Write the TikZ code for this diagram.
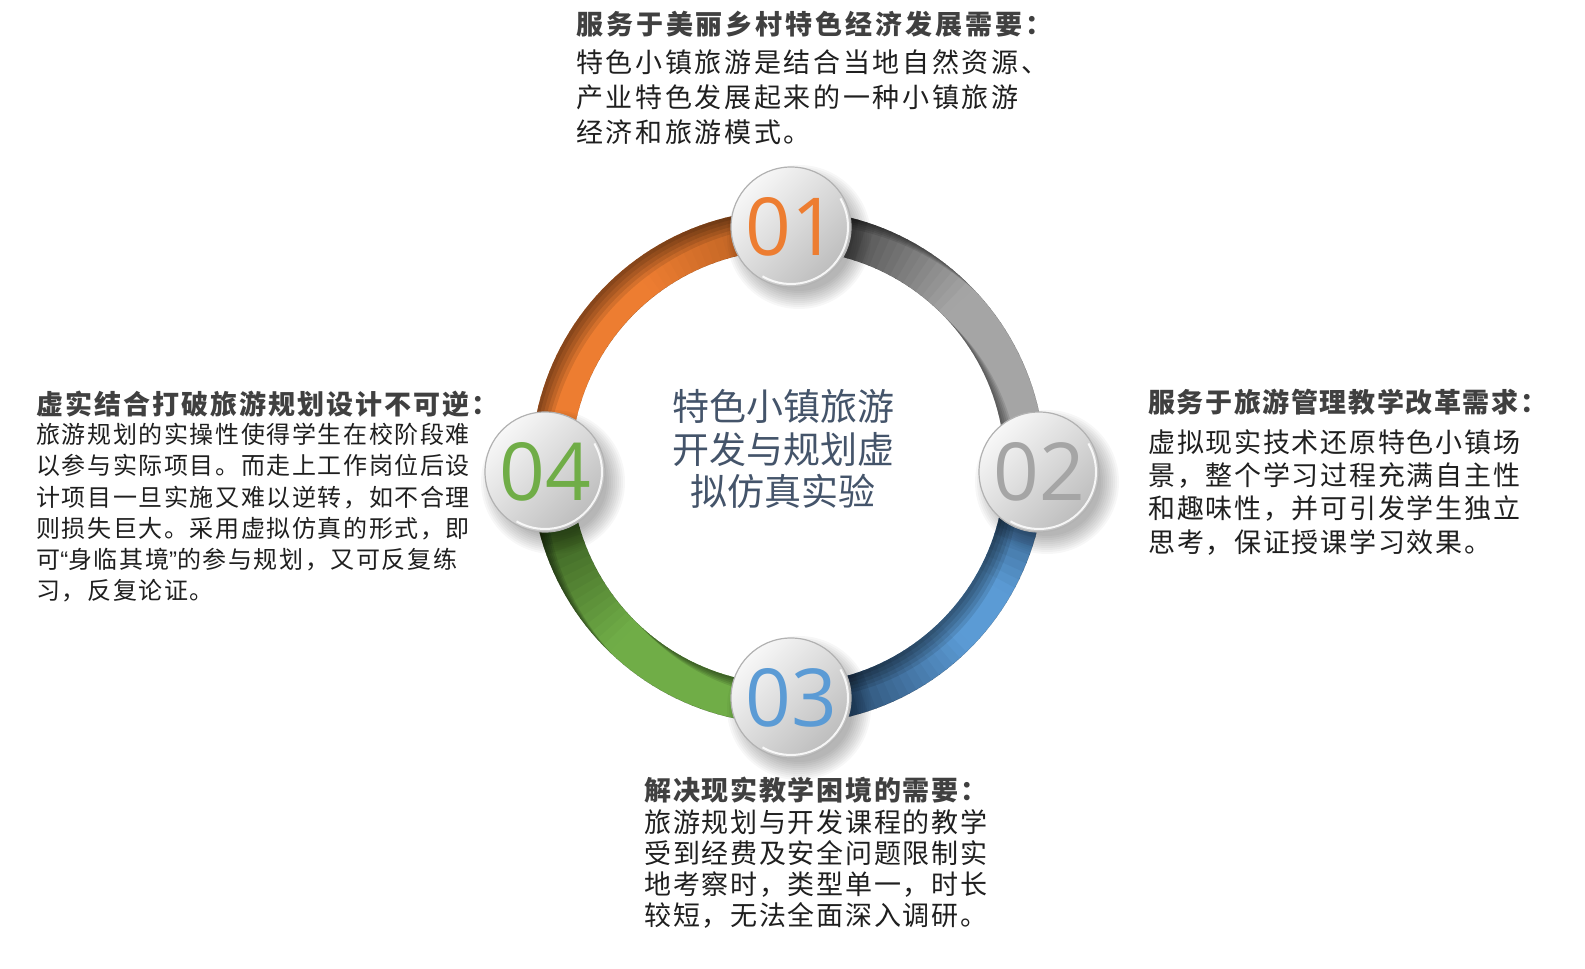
\documentclass[tikz,border=0pt]{standalone}
\usepackage{fontspec}
\setmainfont{Noto Sans CJK SC}
\newfontfamily\numfont{Open Sans}
\newfontfamily\quotefont{Liberation Sans}
\usetikzlibrary{calc}
\definecolor{orangeB}{HTML}{ED7D31}
\definecolor{orangeD}{HTML}{7B3F12}
\definecolor{greyB}{HTML}{A5A5A5}
\definecolor{greyD}{HTML}{474747}
\definecolor{blueB}{HTML}{5B9BD5}
\definecolor{blueD}{HTML}{2A4A6C}
\definecolor{greenB}{HTML}{70AD47}
\definecolor{greenD}{HTML}{35561E}
\definecolor{titleC}{HTML}{44546A}
\definecolor{headC}{HTML}{404040}
\definecolor{bodyC}{HTML}{1F1F1F}
\newlength\cjkgap
\makeatletter
\count@="4E00
\loop\XeTeXcharclass\count@=1 \advance\count@ 1 \ifnum\count@<"A000 \repeat
\makeatother
\XeTeXcharclass"3001=3
\XeTeXcharclass"3002=3
\XeTeXcharclass"FF0C=3
\XeTeXcharclass"FF1A=3
\XeTeXinterchartoks 1 1 = {\hskip\cjkgap}
\XeTeXinterchartoks 1 3 = {\hskip\cjkgap}
\XeTeXinterchartoks 3 1 = {\hskip\cjkgap}
\XeTeXinterchartokenstate=1
% annular band from angle #1 to #2, shifted by (#3,#4)
\newcommand\bandp[4]{([shift={(#3,#4)}]C) ++(#1:257) arc[start angle=#1, end angle=#2, radius=257] -- ++(#2+180:40) arc[start angle=#2, end angle=#1, radius=217] -- cycle}
\newcommand\edgeshade[2]{%
  \begin{scope}
    \clip \bandp{#1}{#2}{0}{0};
    \foreach \s in {4,8,12,16,20}{
      \fill[black, opacity=0.1, even odd rule] \bandp{#1-6}{#2+6}{0}{0} \bandp{#1-6}{#2+6}{\s*0.707}{-\s*0.707};
    }
  \end{scope}}
\begin{document}
\begin{tikzpicture}[x=0.75pt, y=0.75pt,
  hdtxt/.style={anchor=west, inner sep=0pt, text=headC},
  bdtxt/.style={anchor=north west, inner sep=0pt, align=left, text=bodyC},
  numnode/.style={circle, minimum size=90pt, inner sep=0pt, draw=white!70!black, line width=0.9pt,
    top color=white!97!black, bottom color=white!74!black, shading angle=45,
    font=\numfont\fontsize{60pt}{60pt}\selectfont}
]
\useasboundingbox (0,0) rectangle (1585,-969);
\fill[white] (0,0) rectangle (1585,-969);
\coordinate (C) at (788,-467);
\coordinate (p1) at (791,-227);
\coordinate (p2) at (1039,-472);
\coordinate (p3) at (791,-698);
\coordinate (p4) at (545,-472);

% grey arc (01 -> 02), dark near 01
\foreach \a in {0,2,...,88}{
  \pgfmathtruncatemacro\f{min(100,max(0,(90-\a-13)*3))}
  \colorlet{segc}{greyB!\f!greyD}
  \fill[segc] \bandp{\a}{\a+2.4}{0}{0};
}
% orange arc (04 -> 01)
\foreach \a in {90,92,...,178}{
  \pgfmathtruncatemacro\f{min(100,max(65,65+(\a-90-13)*1.5))}
  \colorlet{segc}{orangeB!\f!orangeD}
  \fill[segc] \bandp{\a}{\a+2.4}{0}{0};
}
% green arc (03 -> 04), dark near 04
\foreach \a in {180,182,...,268}{
  \pgfmathtruncatemacro\f{min(100,max(0,(\a-180-11)*3))}
  \colorlet{segc}{greenB!\f!greenD}
  \fill[segc] \bandp{\a}{\a+2.4}{0}{0};
}
% blue arc (02 -> 03), dark near 03 and 02
\foreach \a in {270,272,...,358}{
  \pgfmathtruncatemacro\f{min(100,max(0,min((\a-270-11)*3,30+(360-\a-13)*4)))}
  \colorlet{segc}{blueB!\f!blueD}
  \fill[segc] \bandp{\a}{\a+2.4}{0}{0};
}
\edgeshade{0}{90}
\edgeshade{90}{180}
\edgeshade{180}{270}
\edgeshade{270}{360}

% node shadows
\foreach \q in {p1,p2,p3,p4}{
  \foreach \r in {54,56,...,72}{
    \fill[black, opacity=0.03] ($(\q)+(8,-10)$) circle (\r);
  }
}
% numbered nodes
\node[numnode, text=orangeB] (n1) at (p1) {01};
\node[numnode, text=greyB] (n2) at (p2) {02};
\node[numnode, text=blueB] (n3) at (p3) {03};
\node[numnode, text=greenB] (n4) at (p4) {04};
\foreach \q in {n1,n2,n3,n4}{
  \draw[white, opacity=0.85, line width=1.5] (\q.center) ++(-120:57) arc[start angle=-120, end angle=30, radius=57];
}

% centre title
\node[align=center, inner sep=0pt, text=titleC, font={\fontsize{27.75pt}{31.9pt}\selectfont}] (ctr) at (783,-449)
  {特色小镇旅游\\开发与规划虚\\拟仿真实验};

% top block
\node[hdtxt, font={\bfseries\fontsize{20.25pt}{22pt}\selectfont\setlength\cjkgap{2.2pt}}] (h1) at (576,-24)
  {服务于美丽乡村特色经济发展需要：};
\node[bdtxt, font={\fontsize{20.25pt}{26.25pt}\selectfont\setlength\cjkgap{2pt}}] (b1) at (576,-49)
  {特色小镇旅游是结合当地自然资源、\\产业特色发展起来的一种小镇旅游\\经济和旅游模式。};

% right block
\node[hdtxt, font={\bfseries\fontsize{20.25pt}{22pt}\selectfont\setlength\cjkgap{1.2pt}}] (h2) at (1148,-402)
  {服务于旅游管理教学改革需求：};
\node[bdtxt, font={\fontsize{20.25pt}{25pt}\selectfont\setlength\cjkgap{1.3pt}}] (b2) at (1148,-429)
  {虚拟现实技术还原特色小镇场\\景，整个学习过程充满自主性\\和趣味性，并可引发学生独立\\思考，保证授课学习效果。};

% bottom block
\node[hdtxt, font={\bfseries\fontsize{20.25pt}{22pt}\selectfont\setlength\cjkgap{1.3pt}}] (h3) at (644,-790)
  {解决现实教学困境的需要：};
\node[bdtxt, font={\fontsize{20.25pt}{23.25pt}\selectfont\setlength\cjkgap{1.3pt}}] (b3) at (644,-809)
  {旅游规划与开发课程的教学\\受到经费及安全问题限制实\\地考察时，类型单一，时长\\较短，无法全面深入调研。};

% left block
\node[hdtxt, font={\bfseries\fontsize{20.25pt}{22pt}\selectfont\setlength\cjkgap{1.5pt}}] (h4) at (36,-404)
  {虚实结合打破旅游规划设计不可逆：};
\node[bdtxt, font={\fontsize{18pt}{23.4pt}\selectfont\setlength\cjkgap{1.2pt}}] (b4) at (36,-423)
  {旅游规划的实操性使得学生在校阶段难\\以参与实际项目。而走上工作岗位后设\\计项目一旦实施又难以逆转，如不合理\\则损失巨大。采用虚拟仿真的形式，即\\可{\quotefont“}身临其境{\quotefont”}的参与规划，又可反复练\\习，反复论证。};
\end{tikzpicture}
\end{document}
